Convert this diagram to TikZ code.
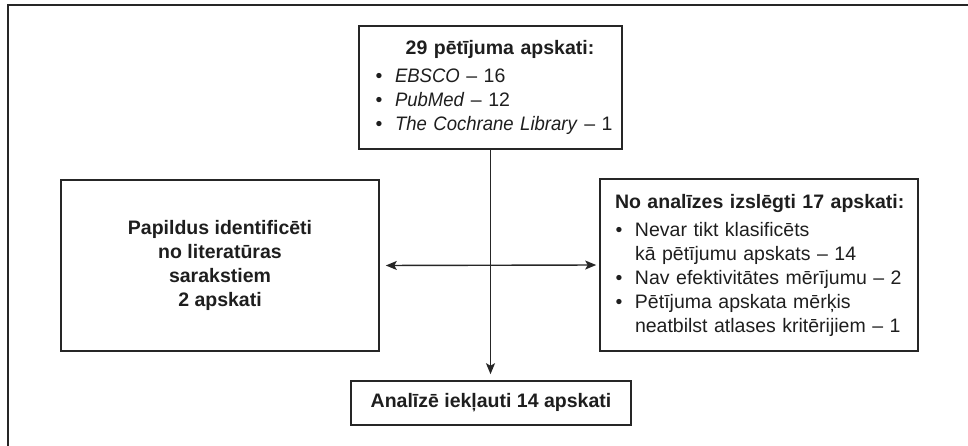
\documentclass[tikz,border=0pt]{standalone}
\usepackage{fontspec}
\setmainfont{Liberation Sans}[ItalicFeatures={FakeStretch=0.95}]
\usetikzlibrary{arrows.meta}
\definecolor{ink}{HTML}{1E1E1E}
\definecolor{edge}{HTML}{262626}
\newcommand{\bul}{\makebox[20pt][l]{\hspace{0.6pt}•}}
\begin{document}
\begin{tikzpicture}[x=1pt,y=-1pt,
  txt/.style={font=\fontsize{19.5}{24}\selectfont, text=ink},
  box/.style={txt, draw=edge, line width=1.6pt, rectangle, inner sep=0pt},
  conn/.style={draw=edge, line width=1.4pt},
  hd/.tip={Stealth[length=11pt,width=9pt,inset=2.5pt]}
]
\useasboundingbox (0,0) rectangle (968,446);
% outer frame (cropped)
\coordinate (fBL) at (8,447);
\coordinate (fTL) at (8,5);
\coordinate (fTR) at (969,5);
\draw[draw=edge, line width=1.6pt] (fBL) -- (fTL) -- (fTR);

% top box
\node[box, minimum width=263pt, minimum height=123pt, text width=231pt, align=left] (top) at (490.5,87.5)
 {\makebox[231pt][c]{\hspace{19pt}\bfseries 29 pētījuma apskati:}\\[4pt]
  \mbox{\bul\textit{EBSCO} – 16}\\
  \mbox{\bul\textit{PubMed} – 12}\\
  \mbox{\bul\textit{The Cochrane Library} – 1}};

% left box
\node[box, minimum width=318pt, minimum height=171pt, align=center, font=\fontsize{19.5}{24}\selectfont\bfseries] (left) at (220,265.5)
 {Papildus identificēti\\ no literatūras\\ sarakstiem\\ 2 apskati};

% right box
\node[box, minimum width=318pt, minimum height=172pt, text width=288pt, align=left] (right) at (759,265)
 {\mbox{\bfseries No analīzes izslēgti 17 apskati:}\\[4pt]
  \mbox{\bul Nevar tikt klasificēts}\\
  \mbox{\hspace{20pt}kā pētījumu apskats – 14}\\
  \mbox{\bul Nav efektivitātes mērījumu – 2}\\
  \mbox{\bul Pētījuma apskata mērķis}\\
  \mbox{\hspace{20pt}neatbilst atlases kritērijiem – 1}};

% bottom box
\node[box, minimum width=280pt, minimum height=44pt, font=\fontsize{19.5}{24}\selectfont\bfseries] (bot) at (491,403)
 {Analīzē iekļauti 14 apskati};

% connectors
\draw[conn, -hd, shorten >=6pt] (top.south) -- (top.south |- bot.north);
\draw[conn, hd-hd, shorten <=6pt, shorten >=3pt] (left.east) -- (right.west);
\end{tikzpicture}
\end{document}
